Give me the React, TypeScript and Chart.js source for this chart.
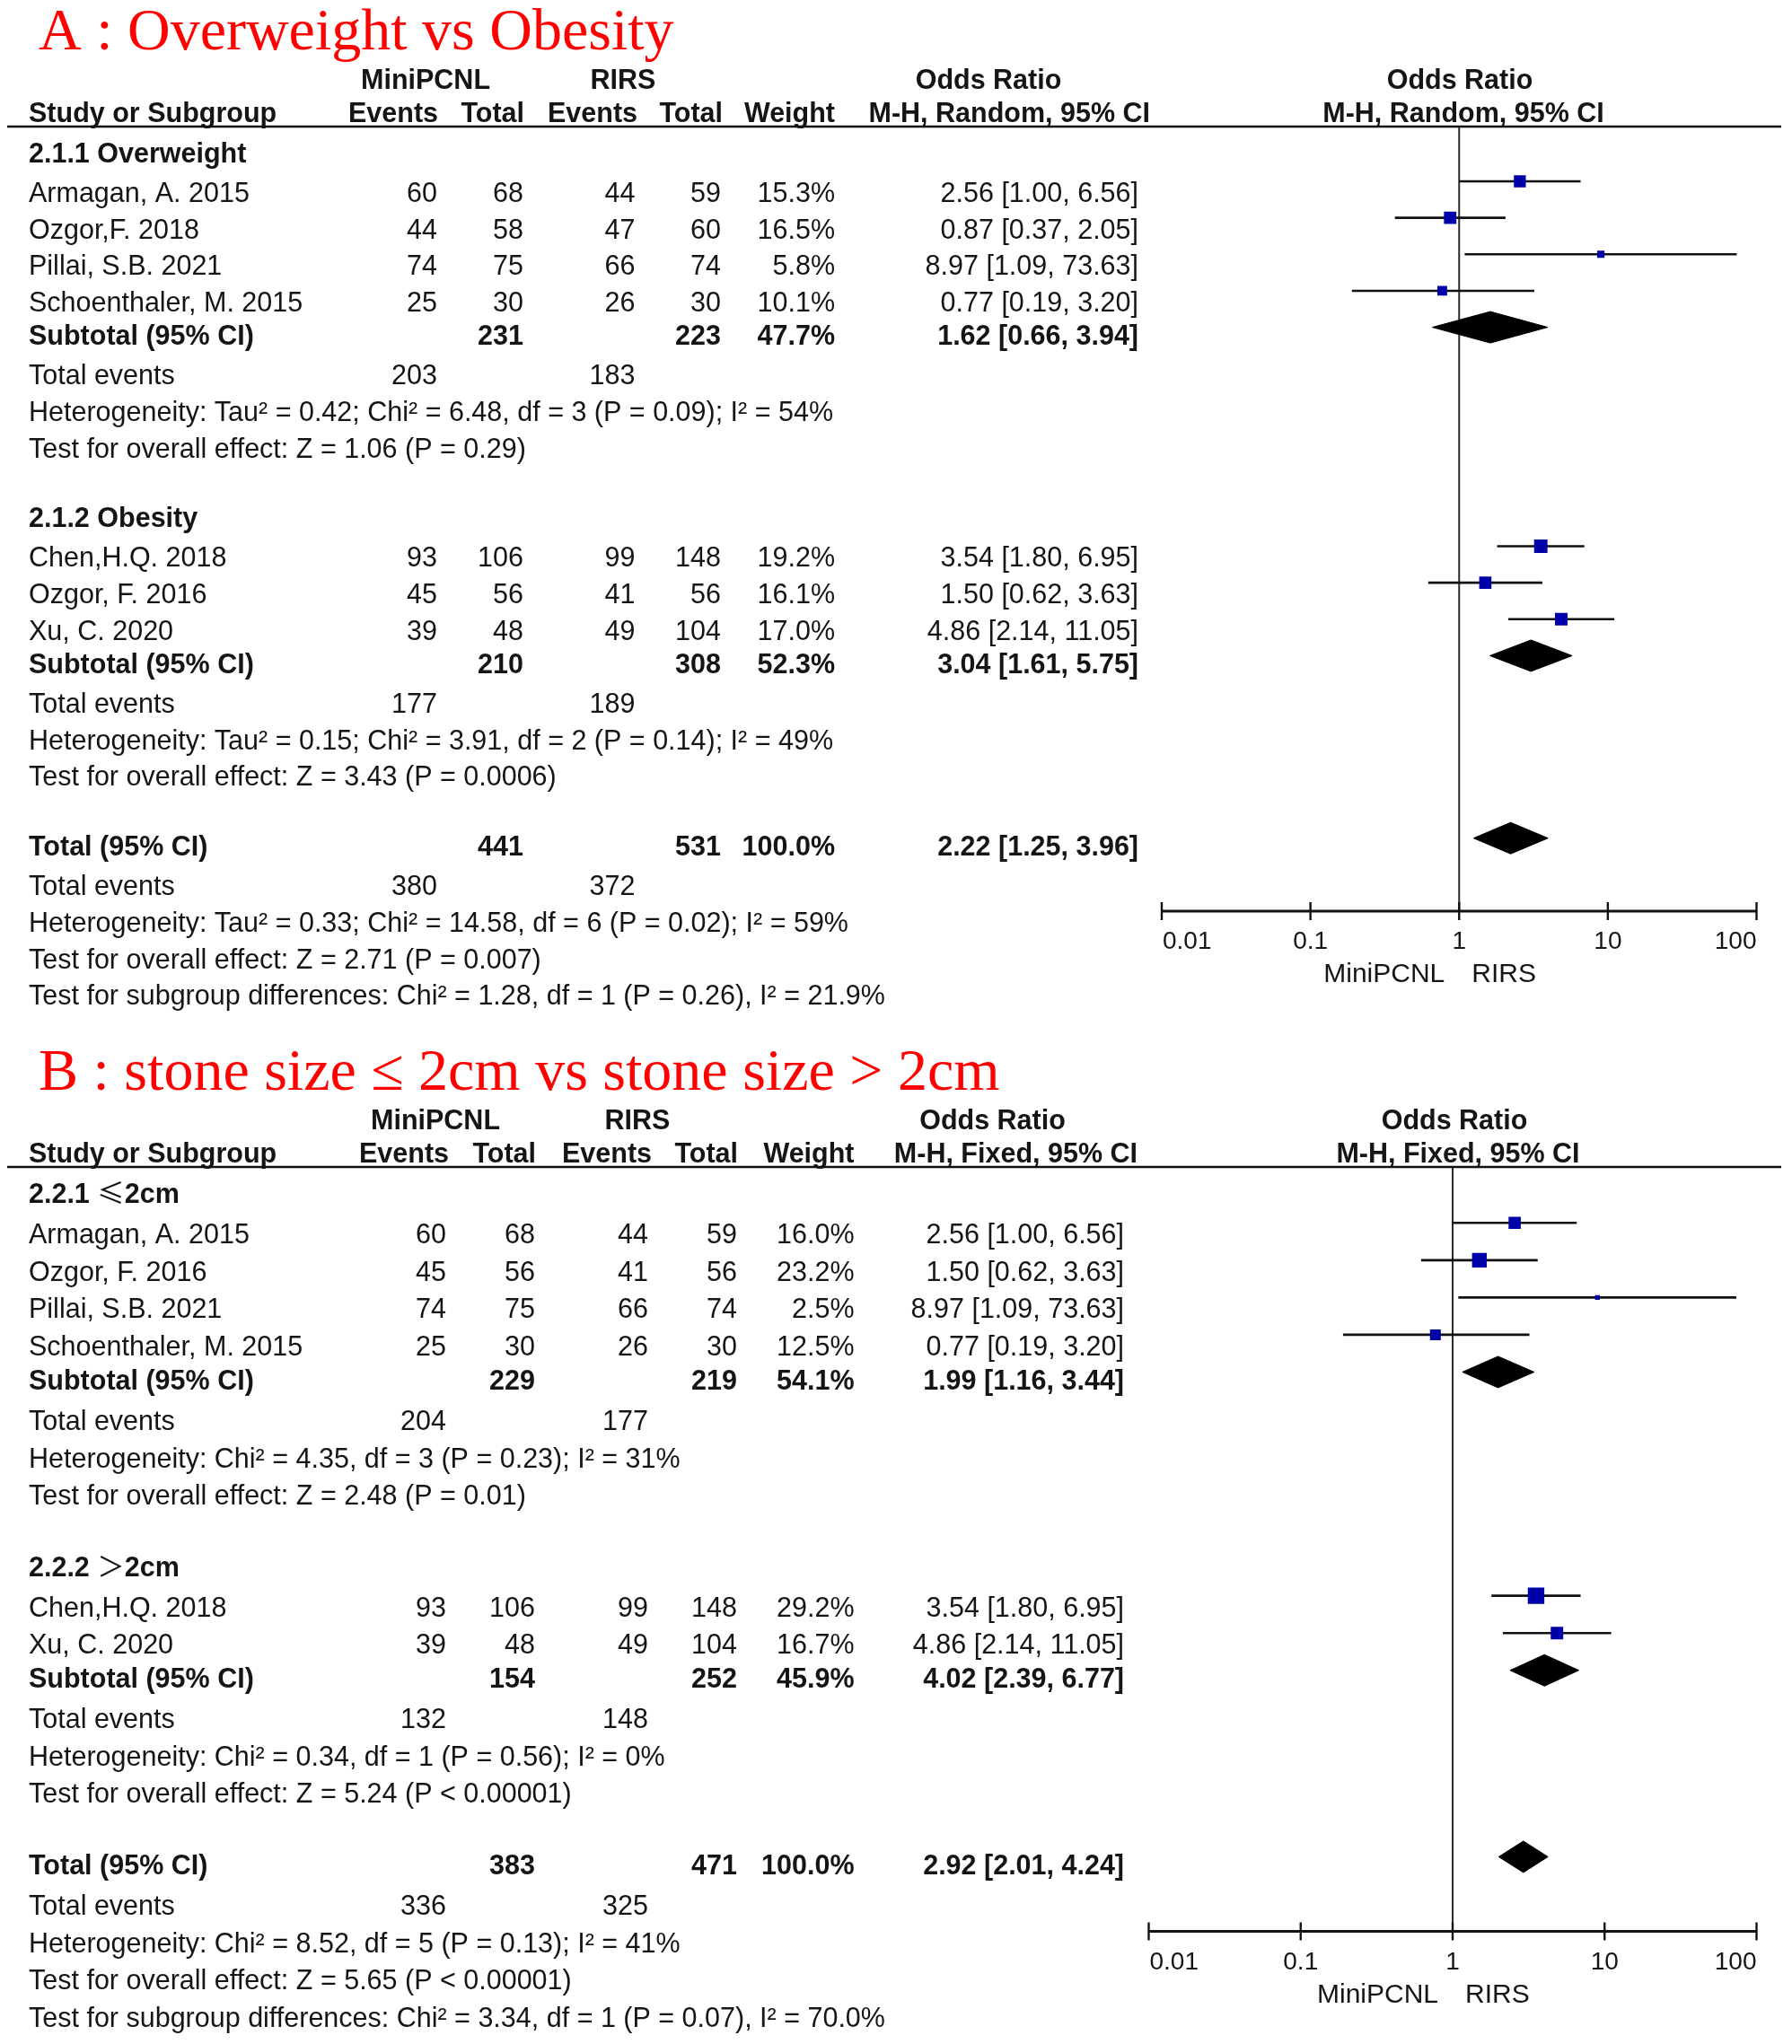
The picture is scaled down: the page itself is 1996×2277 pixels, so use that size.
import React, { useEffect, useRef } from "react";
import { Chart, registerables } from "chart.js";

Chart.register(...registerables);

const SANS = "'Liberation Sans', Arial, Helvetica, sans-serif";
const SERIF = "'Liberation Serif', 'Times New Roman', serif";
const CJK = "'Noto Sans CJK SC', 'Noto Sans CJK JP', 'DejaVu Sans', sans-serif";

// ---------------- Panel A : Overweight vs Obesity ----------------
const A_TITLE = "A : Overweight vs Obesity";
const A_METHOD = "M-H, Random, 95% CI";
const A_GROUP_LABELS = ["2.1.1 Overweight", "2.1.2 Obesity"];
const A_STUDIES = ["Armagan, A. 2015", "Ozgor,F. 2018", "Pillai, S.B. 2021", "Schoenthaler, M. 2015", "Chen,H.Q. 2018", "Ozgor, F. 2016", "Xu, C. 2020"];
const A_STUDY_GROUP = [0, 0, 0, 0, 1, 1, 1];
const A_MINI_EVENTS = [60, 44, 74, 25, 93, 45, 39];
const A_MINI_TOTAL = [68, 58, 75, 30, 106, 56, 48];
const A_RIRS_EVENTS = [44, 47, 66, 26, 99, 41, 49];
const A_RIRS_TOTAL = [59, 60, 74, 30, 148, 56, 104];
const A_WEIGHT = [15.3, 16.5, 5.8, 10.1, 19.2, 16.1, 17.0];
const A_OR = [2.56, 0.87, 8.97, 0.77, 3.54, 1.5, 4.86];
const A_CI_LOW = [1.0, 0.37, 1.09, 0.19, 1.8, 0.62, 2.14];
const A_CI_HIGH = [6.56, 2.05, 73.63, 3.2, 6.95, 3.63, 11.05];
// summaries: subgroup 1, subgroup 2, overall total
const A_SUM_MINI_EVENTS = [203, 177, 380];
const A_SUM_MINI_TOTAL = [231, 210, 441];
const A_SUM_RIRS_EVENTS = [183, 189, 372];
const A_SUM_RIRS_TOTAL = [223, 308, 531];
const A_SUM_WEIGHT = [47.7, 52.3, 100.0];
const A_SUM_OR = [1.62, 3.04, 2.22];
const A_SUM_LOW = [0.66, 1.61, 1.25];
const A_SUM_HIGH = [3.94, 5.75, 3.96];
const A_HETEROGENEITY = [
  "Heterogeneity: Tau² = 0.42; Chi² = 6.48, df = 3 (P = 0.09); I² = 54%",
  "Heterogeneity: Tau² = 0.15; Chi² = 3.91, df = 2 (P = 0.14); I² = 49%",
  "Heterogeneity: Tau² = 0.33; Chi² = 14.58, df = 6 (P = 0.02); I² = 59%",
];
const A_OVERALL_EFFECT = [
  "Test for overall effect: Z = 1.06 (P = 0.29)",
  "Test for overall effect: Z = 3.43 (P = 0.0006)",
  "Test for overall effect: Z = 2.71 (P = 0.007)",
];
const A_SUBGROUP_DIFF = "Test for subgroup differences: Chi² = 1.28, df = 1 (P = 0.26), I² = 21.9%";

// ---------------- Panel B : stone size ----------------
const B_TITLE = "B : stone size ≤ 2cm vs stone size > 2cm";
const B_METHOD = "M-H, Fixed, 95% CI";
const B_GROUP_LABELS = ["2.2.1 ≤2cm", "2.2.2 ＞2cm"];
const B_STUDIES = ["Armagan, A. 2015", "Ozgor, F. 2016", "Pillai, S.B. 2021", "Schoenthaler, M. 2015", "Chen,H.Q. 2018", "Xu, C. 2020"];
const B_STUDY_GROUP = [0, 0, 0, 0, 1, 1];
const B_MINI_EVENTS = [60, 45, 74, 25, 93, 39];
const B_MINI_TOTAL = [68, 56, 75, 30, 106, 48];
const B_RIRS_EVENTS = [44, 41, 66, 26, 99, 49];
const B_RIRS_TOTAL = [59, 56, 74, 30, 148, 104];
const B_WEIGHT = [16.0, 23.2, 2.5, 12.5, 29.2, 16.7];
const B_OR = [2.56, 1.5, 8.97, 0.77, 3.54, 4.86];
const B_CI_LOW = [1.0, 0.62, 1.09, 0.19, 1.8, 2.14];
const B_CI_HIGH = [6.56, 3.63, 73.63, 3.2, 6.95, 11.05];
const B_SUM_MINI_EVENTS = [204, 132, 336];
const B_SUM_MINI_TOTAL = [229, 154, 383];
const B_SUM_RIRS_EVENTS = [177, 148, 325];
const B_SUM_RIRS_TOTAL = [219, 252, 471];
const B_SUM_WEIGHT = [54.1, 45.9, 100.0];
const B_SUM_OR = [1.99, 4.02, 2.92];
const B_SUM_LOW = [1.16, 2.39, 2.01];
const B_SUM_HIGH = [3.44, 6.77, 4.24];
const B_HETEROGENEITY = [
  "Heterogeneity: Chi² = 4.35, df = 3 (P = 0.23); I² = 31%",
  "Heterogeneity: Chi² = 0.34, df = 1 (P = 0.56); I² = 0%",
  "Heterogeneity: Chi² = 8.52, df = 5 (P = 0.13); I² = 41%",
];
const B_OVERALL_EFFECT = [
  "Test for overall effect: Z = 2.48 (P = 0.01)",
  "Test for overall effect: Z = 5.24 (P < 0.00001)",
  "Test for overall effect: Z = 5.65 (P < 0.00001)",
];
const B_SUBGROUP_DIFF = "Test for subgroup differences: Chi² = 3.34, df = 1 (P = 0.07), I² = 70.0%";

// ---------------- shared labels ----------------
const AXIS_TICKS = [0.01, 0.1, 1, 10, 100];
const AXIS_LABELS = ["0.01", "0.1", "1", "10", "100"];
const FAVOURS_LEFT = "MiniPCNL";
const FAVOURS_RIGHT = "RIRS";
const HEAD_GROUP_1 = "MiniPCNL";
const HEAD_GROUP_2 = "RIRS";
const HEAD_OR = "Odds Ratio";
const HEAD_STUDY = "Study or Subgroup";
const HEAD_EVENTS = "Events";
const HEAD_TOTAL = "Total";
const HEAD_WEIGHT = "Weight";
const SUBTOTAL_LABEL = "Subtotal (95% CI)";
const TOTAL_LABEL = "Total (95% CI)";
const TOTAL_EVENTS_LABEL = "Total events";

type Panel = {
  title: string; method: string; groupLabels: string[]; studies: string[]; studyGroup: number[];
  miniEvents: number[]; miniTotal: number[]; rirsEvents: number[]; rirsTotal: number[];
  weight: number[]; or: number[]; lo: number[]; hi: number[];
  sMiniEvents: number[]; sMiniTotal: number[]; sRirsEvents: number[]; sRirsTotal: number[];
  sWeight: number[]; sOr: number[]; sLo: number[]; sHi: number[];
  het: string[]; effect: string[]; subDiff: string;
};

const PANEL_A: Panel = {
  title: A_TITLE, method: A_METHOD, groupLabels: A_GROUP_LABELS, studies: A_STUDIES, studyGroup: A_STUDY_GROUP,
  miniEvents: A_MINI_EVENTS, miniTotal: A_MINI_TOTAL, rirsEvents: A_RIRS_EVENTS, rirsTotal: A_RIRS_TOTAL,
  weight: A_WEIGHT, or: A_OR, lo: A_CI_LOW, hi: A_CI_HIGH,
  sMiniEvents: A_SUM_MINI_EVENTS, sMiniTotal: A_SUM_MINI_TOTAL, sRirsEvents: A_SUM_RIRS_EVENTS, sRirsTotal: A_SUM_RIRS_TOTAL,
  sWeight: A_SUM_WEIGHT, sOr: A_SUM_OR, sLo: A_SUM_LOW, sHi: A_SUM_HIGH,
  het: A_HETEROGENEITY, effect: A_OVERALL_EFFECT, subDiff: A_SUBGROUP_DIFF,
};
const PANEL_B: Panel = {
  title: B_TITLE, method: B_METHOD, groupLabels: B_GROUP_LABELS, studies: B_STUDIES, studyGroup: B_STUDY_GROUP,
  miniEvents: B_MINI_EVENTS, miniTotal: B_MINI_TOTAL, rirsEvents: B_RIRS_EVENTS, rirsTotal: B_RIRS_TOTAL,
  weight: B_WEIGHT, or: B_OR, lo: B_CI_LOW, hi: B_CI_HIGH,
  sMiniEvents: B_SUM_MINI_EVENTS, sMiniTotal: B_SUM_MINI_TOTAL, sRirsEvents: B_SUM_RIRS_EVENTS, sRirsTotal: B_SUM_RIRS_TOTAL,
  sWeight: B_SUM_WEIGHT, sOr: B_SUM_OR, sLo: B_SUM_LOW, sHi: B_SUM_HIGH,
  het: B_HETEROGENEITY, effect: B_OVERALL_EFFECT, subDiff: B_SUBGROUP_DIFF,
};

// ---------------- layout (pixels) ----------------
type Layout = {
  height: number; top: number; bottom: number; x001: number; x100: number;
  col: { ev1: number; tot1: number; ev2: number; tot2: number; wt: number; or: number };
  hdr: { mini: number; rirs: number; or1: number; or2: number; ev1: number; tot1: number; ev2: number; tot2: number; wt: number; m1: number; m2: number };
};
const LAYOUT_A: Layout = {
  height: 1150, top: 141, bottom: 1015, x001: 1294, x100: 1956.5,
  col: { ev1: 487, tot1: 583, ev2: 707.5, tot2: 803, wt: 930, or: 1268 },
  hdr: { mini: 474, rirs: 694, or1: 1101, or2: 1626, ev1: 488, tot1: 584, ev2: 710, tot2: 805, wt: 930, m1: 1281, m2: 1630 },
};
const LAYOUT_B: Layout = {
  height: 1127, top: 150, bottom: 1001.5, x001: 1279.5, x100: 1956.5,
  col: { ev1: 497, tot1: 596, ev2: 722, tot2: 821, wt: 951.5, or: 1252 },
  hdr: { mini: 485, rirs: 710, or1: 1105.5, or2: 1620, ev1: 500, tot1: 597, ev2: 726, tot2: 822, wt: 951.5, m1: 1267, m2: 1624 },
};
const CANVAS_W = 1996;
const TEXT_X = 32;
const TITLE_X = 43;
const FONT_PX = 30.5;
const TEXT_DY = 23; // baseline below marker line for plain rows
const TEXT_DY_BOLD = 19.5;
const SQUARE_K = 3.4; // square side (px) = K * sqrt(weight)
const DIAMOND_HALF_PX = 17.5;
const TEXT_COLOR = "#151515";

type Row = { r: number; kind: string; i: number };

function buildRows(p: Panel): { rows: Row[]; totalRow: number } {
  const rows: Row[] = [];
  let r = 0;
  p.groupLabels.forEach((_, g) => {
    rows.push({ r, kind: "group", i: g });
    p.studies.forEach((_, i) => {
      if (p.studyGroup[i] === g) { r += 1; rows.push({ r, kind: "study", i }); }
    });
    r += 1; rows.push({ r, kind: "sum", i: g });
    r += 1; rows.push({ r, kind: "events", i: g });
    r += 1; rows.push({ r, kind: "het", i: g });
    r += 1; rows.push({ r, kind: "effect", i: g });
    r += 2;
  });
  const t = p.groupLabels.length;
  const totalRow = r;
  rows.push({ r, kind: "sum", i: t });
  r += 1; rows.push({ r, kind: "events", i: t });
  r += 1; rows.push({ r, kind: "het", i: t });
  r += 1; rows.push({ r, kind: "effect", i: t });
  r += 1; rows.push({ r, kind: "subdiff", i: t });
  return { rows, totalRow };
}

const fmtOR = (o: number, l: number, h: number) => `${o.toFixed(2)} [${l.toFixed(2)}, ${h.toFixed(2)}]`;
const fmtW = (w: number) => `${w.toFixed(1)}%`;

function Forest({ panel, layout }: { panel: Panel; layout: Layout }) {
  const ref = useRef<HTMLCanvasElement | null>(null);
  useEffect(() => {
    const canvas = ref.current;
    if (!canvas) return;
    const { rows, totalRow } = buildRows(panel);
    const yMin = -0.5;
    const yMax = totalRow + 2;
    const rowPx = (layout.bottom - layout.top) / (yMax - yMin);
    const dHalf = DIAMOND_HALF_PX / rowPx;
    const studyRow = (i: number) => rows.find((q) => q.kind === "study" && q.i === i)!.r;
    const sumRow = (s: number) => rows.find((q) => q.kind === "sum" && q.i === s)!.r;

    const ciData: any[] = [];
    panel.studies.forEach((_, i) => {
      const r = studyRow(i);
      ciData.push({ x: panel.lo[i], y: r }, { x: panel.hi[i], y: r }, { x: panel.hi[i], y: null });
    });
    const datasets: any[] = [
      {
        type: "line", label: "CI", data: ciData, borderColor: "#111", borderWidth: 2.6,
        pointRadius: 0, spanGaps: false, tension: 0, fill: false, order: 3,
      },
      {
        type: "scatter", label: "OR", data: panel.studies.map((_, i) => ({ x: panel.or[i], y: studyRow(i) })),
        pointStyle: "rect", backgroundColor: "#0000a8", borderWidth: 0,
        pointRadius: panel.weight.map((w) => (SQUARE_K * Math.sqrt(w)) / (2 * Math.SQRT1_2)),
        order: 2,
      },
    ];
    panel.sOr.forEach((o, s) => {
      const r = sumRow(s);
      datasets.push({
        type: "line", label: "sum" + s,
        data: [
          { x: panel.sLo[s], y: r }, { x: o, y: r - dHalf }, { x: panel.sHi[s], y: r },
          { x: o, y: r + dHalf }, { x: panel.sLo[s], y: r },
        ],
        borderColor: "#000", borderWidth: 1, backgroundColor: "#000", fill: "shape",
        pointRadius: 0, tension: 0, order: 1,
      });
    });

    const textPlugin = {
      id: "forestText",
      beforeDraw(chart: any) {
        const ctx = chart.ctx;
        ctx.save();
        ctx.fillStyle = "#fff";
        ctx.fillRect(0, 0, chart.width, chart.height);
        ctx.restore();
      },
      beforeDatasetsDraw(chart: any) {
        const ctx = chart.ctx;
        const xs = chart.scales.x;
        const x1 = xs.getPixelForValue(1);
        ctx.save();
        ctx.strokeStyle = "#2a2a2a";
        ctx.lineWidth = 2;
        ctx.beginPath();
        ctx.moveTo(x1, chart.chartArea.top);
        ctx.lineTo(x1, chart.chartArea.bottom);
        ctx.stroke();
        ctx.restore();
      },
      afterDraw(chart: any) {
        const ctx = chart.ctx;
        const xs = chart.scales.x;
        const ys = chart.scales.y;
        const top = chart.chartArea.top;
        const bottom = chart.chartArea.bottom;
        const reg = `${FONT_PX}px ${SANS}`;
        const bold = `bold ${FONT_PX}px ${SANS}`;
        const cjk = `${FONT_PX}px ${CJK}`;
        const t = (s: string, x: number, y: number, align: CanvasTextAlign, font: string, color = TEXT_COLOR) => {
          ctx.font = font;
          ctx.fillStyle = color;
          ctx.textAlign = align;
          ctx.textBaseline = "alphabetic";
          ctx.fillText(s, x, y);
        };
        // left-aligned label where symbol characters use the CJK face (as in the source)
        const runs = (s: string, x: number, y: number) => {
          const parts = s.match(/[\u2000-\uffff]+|[^\u2000-\uffff]+/g) || [];
          let cx = x;
          parts.forEach((part) => {
            const isSym = /[\u2000-\uffff]/.test(part);
            const f = isSym ? cjk : bold;
            t(part, cx, y, "left", f);
            ctx.font = f;
            cx += ctx.measureText(part).width;
          });
        };
        ctx.save();
        // title
        t(panel.title, TITLE_X, top - 86, "left", `66px ${SERIF}`, "#ff0000");
        // header rows
        const h = layout.hdr;
        const h1 = top - 42;
        const h2 = top - 5;
        t(HEAD_GROUP_1, h.mini, h1, "center", bold);
        t(HEAD_GROUP_2, h.rirs, h1, "center", bold);
        t(HEAD_OR, h.or1, h1, "center", bold);
        t(HEAD_OR, h.or2, h1, "center", bold);
        t(HEAD_STUDY, TEXT_X, h2, "left", bold);
        t(HEAD_EVENTS, h.ev1, h2, "right", bold);
        t(HEAD_TOTAL, h.tot1, h2, "right", bold);
        t(HEAD_EVENTS, h.ev2, h2, "right", bold);
        t(HEAD_TOTAL, h.tot2, h2, "right", bold);
        t(HEAD_WEIGHT, h.wt, h2, "right", bold);
        t(panel.method, h.m1, h2, "right", bold);
        t(panel.method, h.m2, h2, "center", bold);
        // header rule
        ctx.strokeStyle = "#111";
        ctx.lineWidth = 2.6;
        ctx.beginPath();
        ctx.moveTo(8, top);
        ctx.lineTo(1984, top);
        ctx.stroke();
        // table rows
        const c = layout.col;
        rows.forEach((row) => {
          const isBold = row.kind === "group" || row.kind === "sum";
          const y = ys.getPixelForValue(row.r) + (isBold ? TEXT_DY_BOLD : TEXT_DY);
          const i = row.i;
          const last = row.i === panel.groupLabels.length;
          switch (row.kind) {
            case "group":
              runs(panel.groupLabels[i], TEXT_X, y);
              break;
            case "study":
              t(panel.studies[i], TEXT_X, y, "left", reg);
              t(String(panel.miniEvents[i]), c.ev1, y, "right", reg);
              t(String(panel.miniTotal[i]), c.tot1, y, "right", reg);
              t(String(panel.rirsEvents[i]), c.ev2, y, "right", reg);
              t(String(panel.rirsTotal[i]), c.tot2, y, "right", reg);
              t(fmtW(panel.weight[i]), c.wt, y, "right", reg);
              t(fmtOR(panel.or[i], panel.lo[i], panel.hi[i]), c.or, y, "right", reg);
              break;
            case "sum":
              t(last ? TOTAL_LABEL : SUBTOTAL_LABEL, TEXT_X, y, "left", bold);
              t(String(panel.sMiniTotal[i]), c.tot1, y, "right", bold);
              t(String(panel.sRirsTotal[i]), c.tot2, y, "right", bold);
              t(fmtW(panel.sWeight[i]), c.wt, y, "right", bold);
              t(fmtOR(panel.sOr[i], panel.sLo[i], panel.sHi[i]), c.or, y, "right", bold);
              break;
            case "events":
              t(TOTAL_EVENTS_LABEL, TEXT_X, y, "left", reg);
              t(String(panel.sMiniEvents[i]), c.ev1, y, "right", reg);
              t(String(panel.sRirsEvents[i]), c.ev2, y, "right", reg);
              break;
            case "het":
              t(panel.het[i], TEXT_X, y, "left", reg);
              break;
            case "effect":
              t(panel.effect[i], TEXT_X, y, "left", reg);
              break;
            case "subdiff":
              t(panel.subDiff, TEXT_X, y, "left", reg);
              break;
          }
        });
        // x axis
        const xa = xs.getPixelForValue(AXIS_TICKS[0]);
        const xb = xs.getPixelForValue(AXIS_TICKS[AXIS_TICKS.length - 1]);
        ctx.strokeStyle = "#111";
        ctx.lineWidth = 3;
        ctx.beginPath();
        ctx.moveTo(xa, bottom);
        ctx.lineTo(xb, bottom);
        ctx.stroke();
        ctx.lineWidth = 2.4;
        AXIS_TICKS.forEach((v, k) => {
          const x = xs.getPixelForValue(v);
          ctx.beginPath();
          ctx.moveTo(x, bottom - 10);
          ctx.lineTo(x, bottom + 10);
          ctx.stroke();
          const align: CanvasTextAlign = k === 0 ? "left" : k === AXIS_TICKS.length - 1 ? "right" : "center";
          t(AXIS_LABELS[k], x + (k === 0 ? 1 : 0), bottom + 42, align, `28px ${SANS}`);
        });
        const x1 = xs.getPixelForValue(1);
        t(FAVOURS_LEFT, x1 - 16, bottom + 79, "right", `30px ${SANS}`);
        t(FAVOURS_RIGHT, x1 + 14, bottom + 79, "left", `30px ${SANS}`);
        ctx.restore();
      },
    };

    const chart = new Chart(canvas, {
      type: "scatter",
      data: { datasets },
      options: {
        animation: false,
        responsive: false,
        maintainAspectRatio: false,
        devicePixelRatio: 1,
        events: [],
        layout: {
          padding: {
            left: layout.x001,
            right: CANVAS_W - layout.x100,
            top: layout.top,
            bottom: layout.height - layout.bottom,
          },
        },
        scales: {
          x: { type: "logarithmic", min: AXIS_TICKS[0], max: AXIS_TICKS[AXIS_TICKS.length - 1], display: false },
          y: { type: "linear", min: yMin, max: yMax, reverse: true, display: false },
        },
        plugins: { legend: { display: false }, tooltip: { enabled: false } },
      } as any,
      plugins: [textPlugin as any],
    });
    return () => chart.destroy();
  }, [panel, layout]);
  return <canvas ref={ref} width={CANVAS_W} height={layout.height} style={{ display: "block", width: CANVAS_W, height: layout.height }} />;
}

export default function App() {
  return (
    <div style={{ position: "absolute", left: 0, top: 0, width: CANVAS_W, height: 2277, background: "#fff" }}>
      <Forest panel={PANEL_A} layout={LAYOUT_A} />
      <Forest panel={PANEL_B} layout={LAYOUT_B} />
    </div>
  );
}
